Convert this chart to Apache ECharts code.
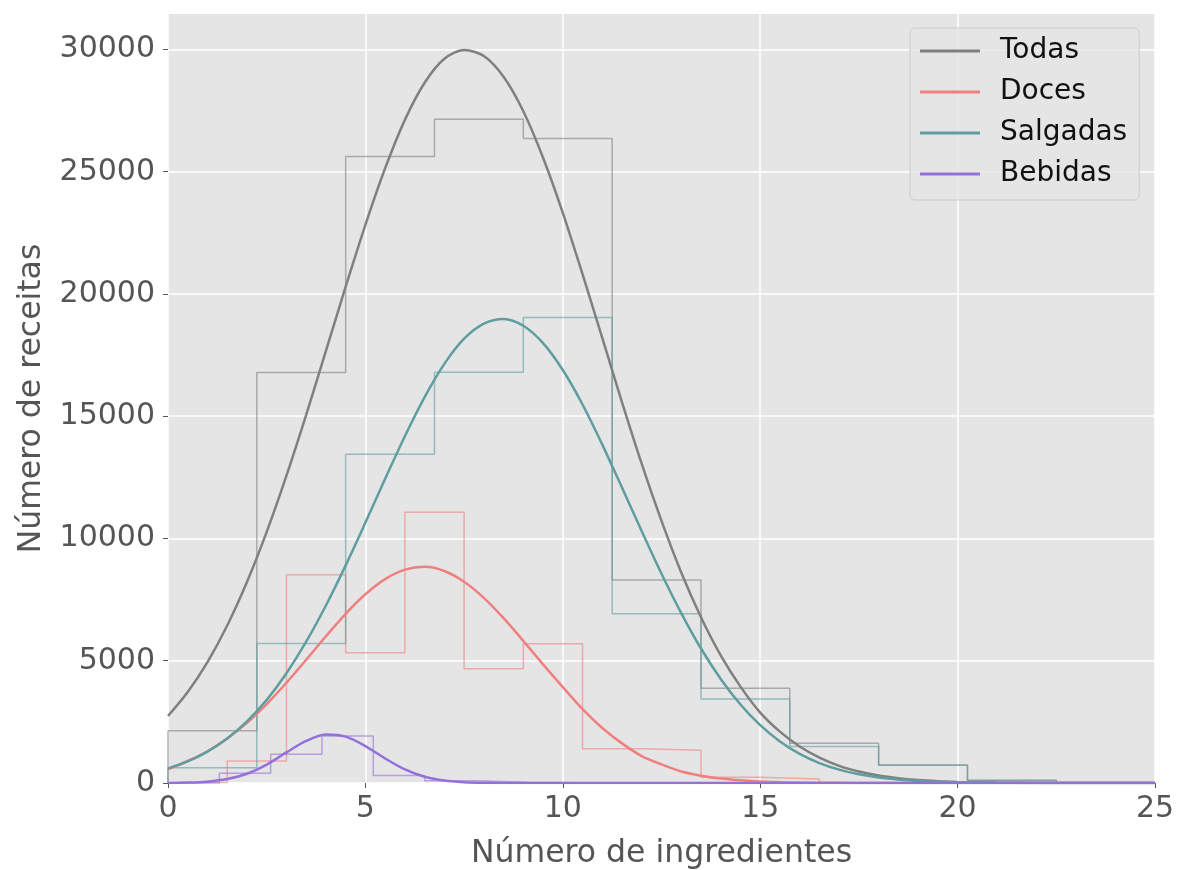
<!DOCTYPE html>
<html lang="pt">
<head>
<meta charset="utf-8">
</head>
<body style="margin: 0">
<div id="container" style="width: 1177px; height: 870px"></div>
<script src="https://cdn.jsdelivr.net/npm/echarts@6/dist/echarts.min.js"></script>
<script>
// histogram bins (edges) and counts
const binsTodas = [0, 2.25, 4.5, 6.75, 9, 11.25, 13.5, 15.75, 18, 20.25, 22.5];
const histTodas = [2140, 16790, 25620, 27150, 26360, 8300, 3875, 1625, 740, 110];
const histSalgadas = [625, 5710, 13450, 16795, 19040, 6920, 3440, 1490, 725, 100];
const binsDoces = [0, 1.5, 3, 4.5, 6, 7.5, 9, 10.5, 12, 13.5, 15, 16.5];
const histDoces = [20, 900, 8520, 5330, 11070, 4670, 5690, 1400, 1340, 235, 165];
const binsBebidas = [0, 1.3, 2.6, 3.9, 5.2, 6.5, 7.8, 9.1, 10.4, 11.7, 13];
const histBebidas = [0, 400, 1175, 1920, 305, 90, 35, 12, 5, 3];

// fitted curves
const curveX = [0, 0.5, 1, 1.5, 2, 2.5, 3, 3.5, 4, 4.5, 5, 5.5, 6, 6.5, 7, 7.5, 8, 8.5, 9, 9.5, 10,
	10.5, 11, 11.5, 12, 12.5, 13, 13.5, 14, 14.5, 15, 15.5, 16, 16.5, 17, 17.5, 18, 18.5, 19, 19.5, 20,
	21, 22, 23, 24, 25];
const curveTodas = [2740, 3720, 4940, 6440, 8220, 10270, 12570, 15060, 17670, 20300, 22830, 25140, 27120, 28640, 29620, 29980, 29730, 28880, 27470, 25570, 23320,
	20810, 18200, 15570, 13050, 10720, 8610, 6780, 5220, 3940, 2880, 2100, 1490, 1035, 700, 468, 305, 195, 121, 74, 45,
	16, 5, 1, 0, 0];
const curveDoces = [560, 900, 1300, 1820, 2460, 3230, 4100, 5040, 6000, 6920, 7720, 8340, 8725, 8840, 8670, 8230, 7570, 6740, 5810, 4850, 3920,
	3020, 2250, 1620, 1100, 760, 470, 300, 180, 110, 60, 35, 18, 10, 6, 3, 2, 1, 0, 0, 0,
	0, 0, 0, 0, 0];
const curveSalgadas = [600, 883, 1285, 1820, 2520, 3400, 4490, 5780, 7260, 8900, 10650, 12440, 14180, 15780, 17140, 18170, 18790, 18980, 18700, 17990, 16890,
	15480, 13840, 12080, 10300, 8560, 6950, 5500, 4255, 3210, 2365, 1700, 1193, 816, 546, 356, 227, 141, 85, 51, 29,
	9, 3, 1, 0, 0];
const bebidasX = [0, 0.5, 1, 1.5, 2, 2.5, 3, 3.5, 4, 4.5, 5, 5.5, 6, 6.5, 7, 7.5, 8, 8.5, 9, 10, 11, 12, 13, 14, 15, 16, 17, 18, 19, 20, 21, 22, 23, 24, 25];
const curveBebidas = [4, 16, 56, 160, 380, 755, 1250, 1720, 1980, 1895, 1510, 1003, 555, 256, 98, 32, 8, 2, 0, 0, 0, 0, 0, 0, 0, 0, 0, 0, 0, 0, 0, 0, 0, 0, 0];

const yTicks = [0, 5000, 10000, 15000, 20000, 25000, 30000];

const cores = {
	Todas: '#808080',
	Doces: '#F08080',
	Salgadas: '#5F9EA0',
	Bebidas: '#9370DB'
};

function stepData(edges, counts) {
	let pts = [[edges[0], 0]];
	counts.forEach((c, i) => {
		pts.push([edges[i], c]);
		pts.push([edges[i + 1], c]);
	});
	pts.push([edges[edges.length - 1], 0]);
	return pts;
}

function histSerie(nome, edges, counts) {
	return {
		name: nome + '_hist',
		type: 'line',
		symbol: 'none',
		data: stepData(edges, counts),
		lineStyle: { width: 1.5, color: cores[nome], opacity: 0.6 },
		itemStyle: { color: cores[nome] },
		z: 2
	};
}

function curvaSerie(nome, xs, ys) {
	return {
		name: nome,
		type: 'line',
		symbol: 'none',
		smooth: 0.3,
		data: xs.map((x, i) => [x, ys[i]]),
		lineStyle: { width: 2.5, color: cores[nome] },
		itemStyle: { color: cores[nome] },
		z: 3
	};
}

var myChart = echarts.init(document.getElementById('container'));
var option = {
	animation: false,
	textStyle: { fontFamily: 'DejaVu Sans' },
	grid: {
		left: 168, right: 22, top: 14, bottom: 87,
		outerBoundsMode: 'none',
		containLabel: false,
		show: true, backgroundColor: '#E5E5E5', borderWidth: 0
	},
	legend: {
		orient: 'vertical',
		left: 910, top: 28,
		padding: [7, 12, 10, 10],
		backgroundColor: 'rgba(229,229,229,0.8)',
		borderColor: '#CCCCCC',
		borderWidth: 1,
		borderRadius: 5,
		itemWidth: 60,
		itemHeight: 3,
		itemGap: 9,
		icon: 'rect',
		textStyle: { fontSize: 28, lineHeight: 32, color: '#111', padding: [0, 0, 0, 15], fontFamily: 'DejaVu Sans' },
		data: ['Todas', 'Doces', 'Salgadas', 'Bebidas']
	},
	xAxis: {
		type: 'value',
		min: 0, max: 25, interval: 5,
		name: 'Número de ingredientes',
		nameLocation: 'middle',
		nameGap: 55,
		nameTextStyle: { fontSize: 31.5, color: '#555555', fontFamily: 'DejaVu Sans' },
		axisLine: { show: false },
		axisTick: { show: true, length: 5, lineStyle: { color: '#555555' } },
		axisLabel: { fontSize: 30, color: '#555555', margin: 11, fontFamily: 'DejaVu Sans' },
		splitLine: { show: true, lineStyle: { color: '#FFFFFF', width: 1.5 } }
	},
	yAxis: {
		type: 'value',
		min: 0, max: 31450, interval: 5000,
		name: 'Número de receitas',
		nameLocation: 'middle',
		nameGap: 120,
		nameTextStyle: { fontSize: 31.5, color: '#555555', fontFamily: 'DejaVu Sans' },
		axisLine: { show: false },
		axisTick: { show: true, length: 5, lineStyle: { color: '#555555' }, customValues: yTicks },
		axisLabel: {
			fontSize: 30, color: '#555555', margin: 13, customValues: yTicks, fontFamily: 'DejaVu Sans',
			formatter: v => String(v)
		},
		splitLine: { show: true, lineStyle: { color: '#FFFFFF', width: 1.5 } }
	},
	series: [
		histSerie('Todas', binsTodas, histTodas),
		histSerie('Doces', binsDoces, histDoces),
		histSerie('Salgadas', binsTodas, histSalgadas),
		histSerie('Bebidas', binsBebidas, histBebidas),
		curvaSerie('Todas', curveX, curveTodas),
		curvaSerie('Doces', curveX, curveDoces),
		curvaSerie('Salgadas', curveX, curveSalgadas),
		curvaSerie('Bebidas', bebidasX, curveBebidas)
	]
};
option && myChart.setOption(option);
</script>
</body>
</html>
